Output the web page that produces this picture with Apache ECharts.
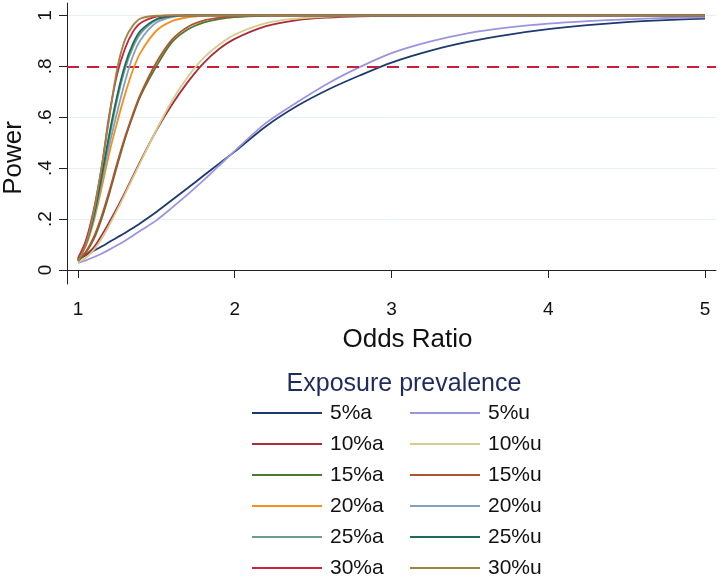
<!DOCTYPE html>
<html>
<head>
<meta charset="utf-8">
<script src="https://cdn.jsdelivr.net/npm/echarts@6/dist/echarts.min.js"></script>
<style>html,body{margin:0;padding:0;background:#fff}#c{width:720px;height:576px}</style>
</head>
<body>
<div id="c"></div>
<script>
const oddsRatio = [1,1.05,1.1,1.15,1.2,1.25,1.3,1.35,1.4,1.5,1.6,1.7,1.8,1.9,2,2.2,2.4,2.6,2.8,3,3.25,3.5,3.75,4,4.25,4.5,4.75,5];
const p05a = [0.040,0.058,0.075,0.092,0.110,0.128,0.145,0.165,0.185,0.228,0.275,0.322,0.370,0.418,0.465,0.565,0.645,0.710,0.765,0.815,0.862,0.898,0.925,0.946,0.962,0.974,0.982,0.988];
const p05u = [0.028,0.038,0.050,0.064,0.080,0.097,0.115,0.135,0.155,0.195,0.245,0.297,0.352,0.410,0.468,0.578,0.660,0.735,0.798,0.852,0.898,0.932,0.953,0.968,0.978,0.985,0.990,0.993];
const p10a = [0.040,0.060,0.088,0.135,0.188,0.245,0.305,0.368,0.430,0.548,0.650,0.738,0.812,0.868,0.908,0.958,0.982,0.992,0.997,0.999,1,1,1,1,1,1,1,1];
const p10u = [0.030,0.048,0.078,0.122,0.176,0.236,0.298,0.362,0.425,0.550,0.665,0.758,0.832,0.885,0.925,0.970,0.988,0.996,0.999,1,1,1,1,1,1,1,1,1];
const p15a = [0.035,0.068,0.120,0.200,0.300,0.410,0.515,0.605,0.685,0.800,0.895,0.945,0.972,0.986,0.994,0.999,1,1,1,1,1,1,1,1,1,1,1,1];
const p15u = [0.040,0.072,0.128,0.210,0.310,0.420,0.522,0.612,0.692,0.815,0.905,0.955,0.980,0.991,0.997,1,1,1,1,1,1,1,1,1,1,1,1,1];
const p20a = [0.040,0.095,0.190,0.320,0.460,0.580,0.690,0.785,0.855,0.940,0.978,0.993,0.999,1,1,1,1,1,1,1,1,1,1,1,1,1,1,1];
const p20u = [0.040,0.098,0.200,0.345,0.490,0.620,0.740,0.840,0.905,0.972,0.994,1,1,1,1,1,1,1,1,1,1,1,1,1,1,1,1,1];
const p25a = [0.040,0.100,0.205,0.355,0.520,0.670,0.790,0.875,0.930,0.982,0.997,1,1,1,1,1,1,1,1,1,1,1,1,1,1,1,1,1];
const p25u = [0.040,0.102,0.210,0.365,0.535,0.685,0.805,0.888,0.940,0.985,0.998,1,1,1,1,1,1,1,1,1,1,1,1,1,1,1,1,1];
const p30a = [0.047,0.115,0.235,0.400,0.610,0.770,0.870,0.935,0.970,0.995,1,1,1,1,1,1,1,1,1,1,1,1,1,1,1,1,1,1];
const p30u = [0.035,0.100,0.225,0.400,0.600,0.790,0.905,0.960,0.988,0.999,1,1,1,1,1,1,1,1,1,1,1,1,1,1,1,1,1,1];

const seriesNames = ['5%a','5%u','10%a','10%u','15%a','15%u','20%a','20%u','25%a','25%u','30%a','30%u'];
const seriesValues = [p05a,p05u,p10a,p10u,p15a,p15u,p20a,p20u,p25a,p25u,p30a,p30u];
const seriesColors = ['#1c3a6c','#9b94e0','#a82c3c','#d6cc8c','#4c7a34','#b4522c','#f4901c','#84a0c0','#6c9c8c','#1c6c5c','#cc2440','#9c8444'];
const xTicks = [1,2,3,4,5];
const yTicks = [0,0.2,0.4,0.6,0.8,1];
const yTickLabels = ['0','.2','.4','.6','.8','1'];
const refPower = 0.8;
const legendTitle = 'Exposure prevalence';

const FONT = 'Liberation Sans, Arial, sans-serif';
const chart = echarts.init(document.getElementById('c'), null, {renderer:'canvas'});

const series = seriesNames.map((name, i) => ({
  name: name,
  type: 'line',
  data: oddsRatio.map((x, k) => [x, seriesValues[i][k]]),
  smooth: 0.3,
  showSymbol: false,
  symbol: 'none',
  lineStyle: {color: seriesColors[i], width: 1.8},
  itemStyle: {color: seriesColors[i]},
  z: 3 + i
}));
series[series.length - 1].markLine = {
  silent: true,
  symbol: 'none',
  label: {show: false},
  lineStyle: {color: '#c8203a', type: [12, 8], width: 2},
  data: [{yAxis: refPower}]
};

const legendText = {fontFamily: FONT, fontSize: 21, color: '#111', lineHeight: 22, padding: [0,0,0,3]};
const option = {
  animation: false,
  backgroundColor: '#ffffff',
  grid: {left: 67, right: 4, top: 3, bottom: 292, containLabel: false, outerBoundsMode: 'none'},
  xAxis: {
    type: 'value', min: 0.93, max: 5.07,
    axisLine: {show: true, lineStyle: {color: '#222', width: 1}},
    axisTick: {show: true, customValues: xTicks, length: 8, lineStyle: {color: '#222'}},
    axisLabel: {customValues: xTicks, margin: 16, fontSize: 19, color: '#111', fontFamily: FONT},
    splitLine: {show: false},
    name: 'Odds Ratio', nameLocation: 'middle', nameGap: 43,
    nameTextStyle: {fontFamily: FONT, fontSize: 26, color: '#111', padding: [0,0,0,32]}
  },
  yAxis: {
    type: 'value', min: -0.055, max: 1.049,
    axisLine: {show: true, lineStyle: {color: '#222', width: 1}},
    axisTick: {show: true, customValues: yTicks, length: 8, lineStyle: {color: '#222'}},
    axisLabel: {customValues: yTicks, margin: 12, rotate: 90, fontSize: 19, color: '#111', fontFamily: FONT,
      formatter: v => { const i = yTicks.findIndex(t => Math.abs(t - v) < 1e-9); return i >= 0 ? yTickLabels[i] : ''; }},
    splitLine: {show: true, lineStyle: {color: '#e6f1f3', width: 1}},
    name: 'Power', nameLocation: 'middle', nameGap: 40, nameRotate: 90,
    nameTextStyle: {fontFamily: FONT, fontSize: 26, color: '#111', padding: [0,29,0,0]}
  },
  legend: [
    {data: seriesNames.filter((n, i) => i % 2 === 0), orient: 'vertical', left: 247, top: 397, height: 200,
     itemWidth: 70, itemHeight: 2, itemGap: 9, icon: 'rect', textStyle: legendText, selectedMode: false},
    {data: seriesNames.filter((n, i) => i % 2 === 1), orient: 'vertical', left: 405, top: 397, height: 200,
     itemWidth: 70, itemHeight: 2, itemGap: 9, icon: 'rect', textStyle: legendText, selectedMode: false}
  ],
  graphic: [{
    type: 'text', x: 404, y: 384,
    style: {text: legendTitle, textAlign: 'center', textVerticalAlign: 'middle',
      fontFamily: FONT, fontSize: 25, fill: '#1e2b5c'}
  }],
  series: series
};
chart.setOption(option);
</script>
</body>
</html>
